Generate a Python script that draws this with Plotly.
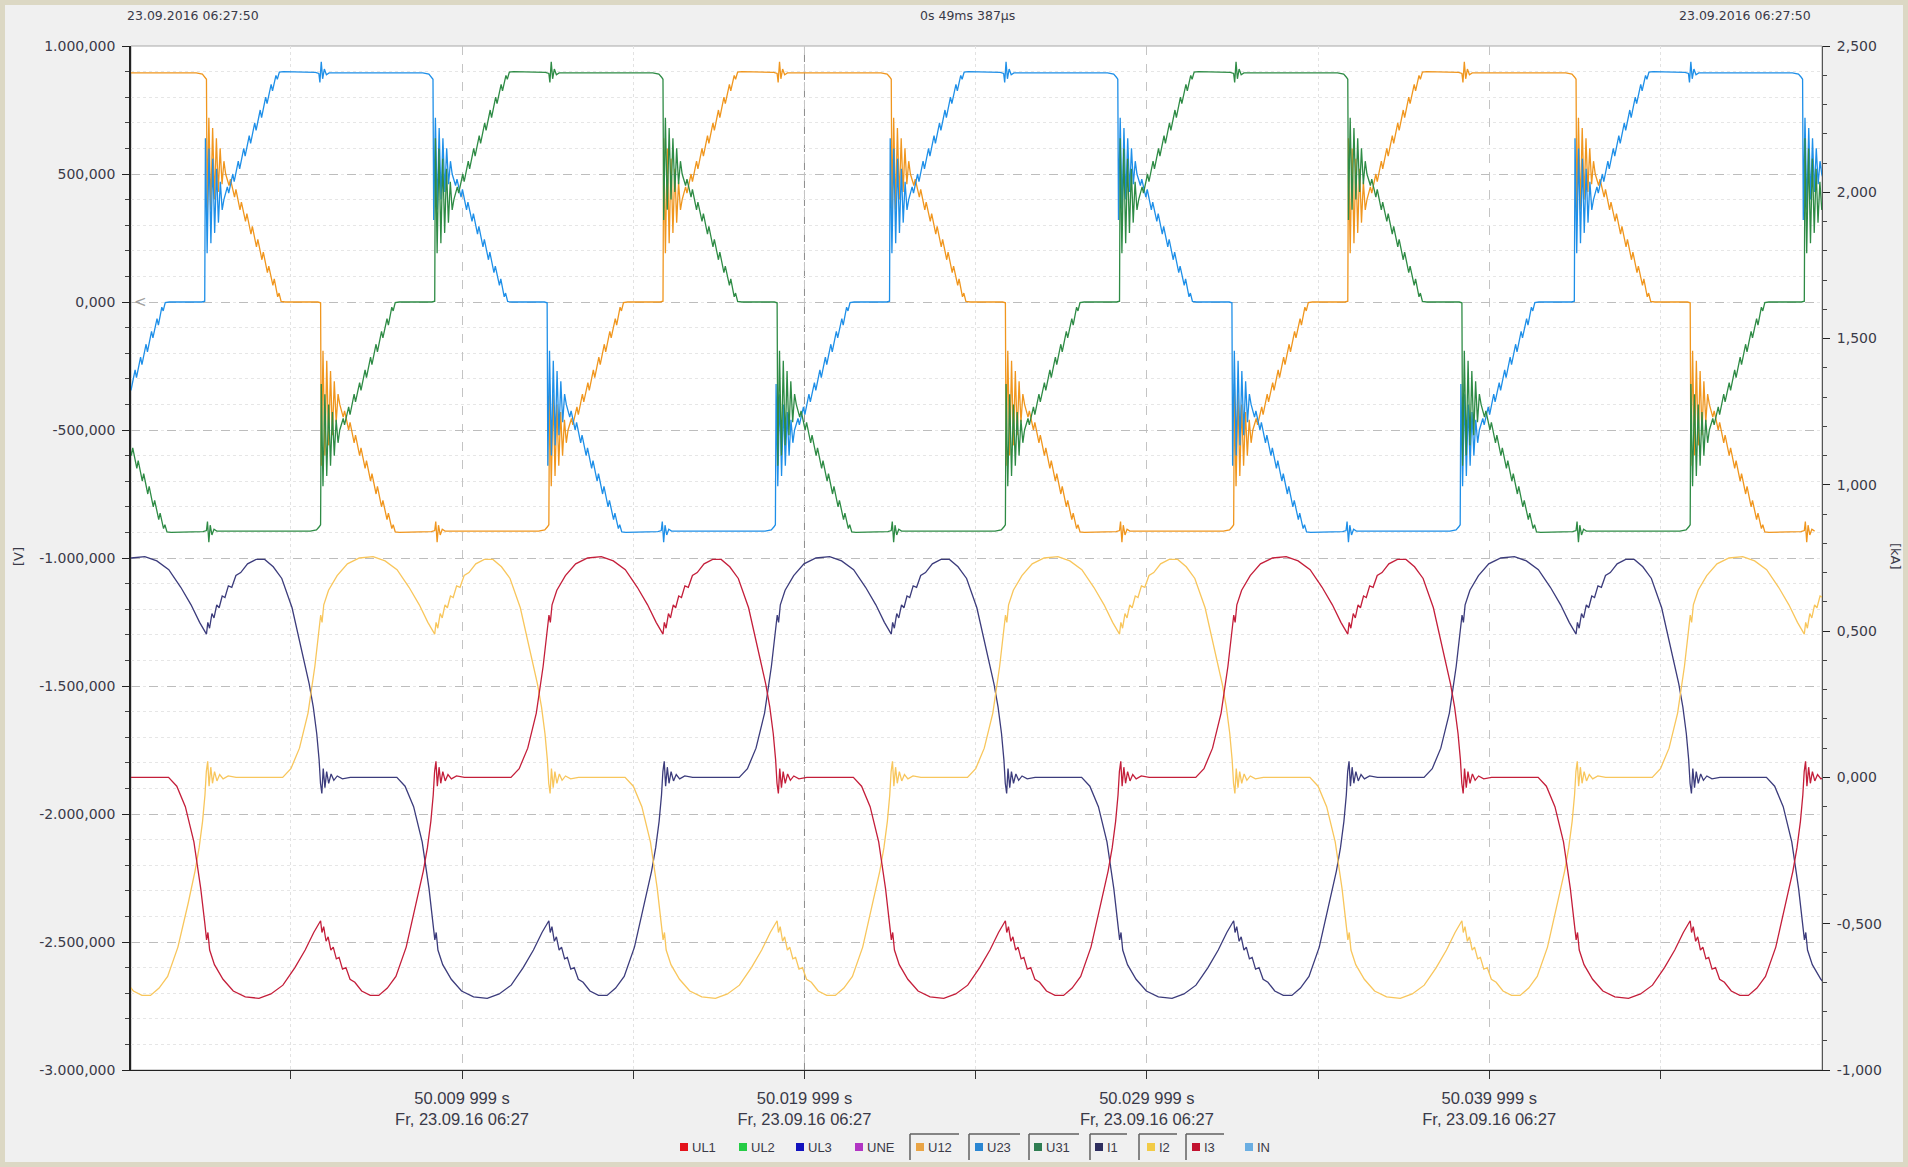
import plotly.graph_objects as go

# ---------------- time axis (ms after 50.000 000 s) ----------------
T_START_MS = 0.330
T_SPAN_MS = 49.387
T_END_MS = T_START_MS + T_SPAN_MS

x_major_ms = [9.999, 19.999, 29.999, 39.999]
x_major_text = [
    "50.009 999 s<br>Fr, 23.09.16 06:27",
    "50.019 999 s<br>Fr, 23.09.16 06:27",
    "50.029 999 s<br>Fr, 23.09.16 06:27",
    "50.039 999 s<br>Fr, 23.09.16 06:27",
]
x_minor_ms = [4.999, 14.999, 24.999, 34.999, 44.999]
cursor_ms = 19.999

# ---------------- y axes ----------------
y_left_vals = [1000, 500, 0, -500, -1000, -1500, -2000, -2500, -3000]
y_left_text = ["1.000,000", "500,000", "0,000", "-500,000", "-1.000,000",
               "-1.500,000", "-2.000,000", "-2.500,000", "-3.000,000"]
y_right_vals = [2.5, 2.0, 1.5, 1.0, 0.5, 0.0, -0.5, -1.0]
y_right_text = ["2,500", "2,000", "1,500", "1,000", "0,500", "0,000", "-0,500", "-1,000"]

header_left = "23.09.2016 06:27:50"
header_mid = "0s 49ms 387µs"
header_right = "23.09.2016 06:27:50"

# ---------------- legend ----------------
legend_names = ["UL1", "UL2", "UL3", "UNE", "U12", "U23", "U31", "I1", "I2", "I3", "IN"]
legend_colors = ["#E3121B", "#25CC45", "#1212BE", "#B235C4", "#E9A445", "#2A86D2",
                 "#2F7D52", "#2E2E5E", "#F2CB46", "#C2122F", "#6AAEE2"]
legend_active = [False, False, False, False, True, True, True, True, True, True, False]

# ---------------- waveform shapes ----------------
# line voltage commutation: +895 V -> 0 V (time in ms after the event, value in V)
vdown_t = [-0.30, -0.12, -0.04, 0.000, 0.020, 0.070, 0.125, 0.180, 0.235, 0.290,
           0.345, 0.400, 0.455, 0.510,
           0.56, 0.66, 0.70, 0.82, 0.86, 0.98, 1.02, 1.14, 1.18, 1.30, 1.34,
           1.46, 1.50, 1.62, 1.66, 1.78, 1.82, 1.94, 1.98, 2.08, 2.12, 2.18, 2.30]
vdown_v = [895, 890, 878, 870, 320, 720, 360, 680, 400, 640,
           430, 600, 460, 550,
           500, 455, 480, 410, 440, 360, 390, 315, 345, 265, 295,
           215, 245, 165, 195, 115, 140, 65, 90, 20, 35, 2, 0]
# line voltage commutation: 0 V -> +895 V
vup_t = [-0.08, 0.000, 0.020, 0.070, 0.125, 0.180, 0.235, 0.290,
         0.345, 0.400, 0.455, 0.510,
         0.56, 0.66, 0.70, 0.82, 0.86, 0.98, 1.02, 1.14, 1.18, 1.30, 1.34,
         1.46, 1.50, 1.62, 1.66, 1.78, 1.82, 1.94, 1.98, 2.08, 2.12, 2.18, 2.30]
vup_v = [0, 3, 640, 190, 600, 230, 560, 270,
         520, 310, 470, 360,
         400, 450, 425, 500, 470, 550, 520, 600, 570, 650, 620,
         700, 670, 750, 720, 800, 775, 850, 825, 885, 870, 898, 900]
# small disturbance on the flat top
blip_t = [-0.10, 0.00, 0.03, 0.07, 0.11, 0.16, 0.22, 0.30]
blip_v = [897, 893, 858, 938, 872, 910, 888, 895]

# phase current half wave (time in ms after the cusp, value in kA)
ihalf_t = [-4.44, -4.20, -3.95, -3.70, -3.50, -3.38, -3.33, -3.29, -3.24, -3.10,
           -2.85, -2.55, -2.20, -1.80, -1.45, -1.10, -0.75, -0.45, -0.20, 0.00,
           0.04, 0.09, 0.16, 0.22, 0.30, 0.37, 0.46, 0.54, 0.64, 0.74, 0.86, 1.00,
           1.20, 1.45, 1.70, 1.95, 2.20, 2.50, 2.80, 3.00, 3.12, 3.22, 3.29, 3.33,
           3.37, 3.41, 3.46, 3.51, 3.57, 3.64, 3.72, 3.82, 3.97, 4.20]
ihalf_v = [0.000, 0.030, 0.100, 0.220, 0.380, 0.500, 0.555, 0.530, 0.590, 0.640,
           0.690, 0.730, 0.750, 0.755, 0.740, 0.710, 0.650, 0.590, 0.530, 0.490,
           0.530, 0.510, 0.560, 0.545, 0.590, 0.580, 0.620, 0.615, 0.655, 0.650, 0.690, 0.700,
           0.730, 0.745, 0.745, 0.720, 0.680, 0.580, 0.430, 0.320, 0.240, 0.150, 0.060, -0.020,
           -0.055, 0.030, -0.035, 0.020, -0.020, 0.012, -0.010, 0.005, -0.005, 0.000]

PERIOD_MS = 20.0
STEP_MS = PERIOD_MS / 6.0

voltage_names = ["U12", "U23", "U31"]
voltage_colors = ["#F0961E", "#1E8FE8", "#2E8B45"]
voltage_refs = [2.534, 9.150, 15.867]

current_names = ["I1", "I2", "I3"]
current_colors = ["#3C3C7C", "#F8C65C", "#C41E3A"]
current_refs = [2.534, 9.200, 15.867]

# sequence of commutations per period: (step index, shape, sign)
voltage_sequence = [(0, "down", 1), (1, "up", -1), (2, "blip", -1),
                    (3, "down", -1), (4, "up", 1), (5, "blip", 1)]
shapes_lookup = {"down": (vdown_t, vdown_v), "up": (vup_t, vup_v), "blip": (blip_t, blip_v)}


def build_voltage(ref):
    ts, vs = [], []
    for k in range(-2, 4):
        base = ref + k * PERIOD_MS
        for step, name, sign in voltage_sequence:
            st, sv = shapes_lookup[name]
            t0 = base + step * STEP_MS
            for a, b in zip(st, sv):
                ts.append(t0 + a)
                vs.append(sign * b)
    return ts, vs


def build_current(ref):
    ts, vs = [], []
    for k in range(-2, 4):
        base = ref + k * PERIOD_MS
        for a, b in zip(ihalf_t, ihalf_v):
            ts.append(base + a)
            vs.append(b)
        for a, b in zip(ihalf_t, ihalf_v):
            ts.append(base + PERIOD_MS / 2 + a)
            vs.append(-b)
    return ts, vs


def clip(ts, vs):
    out_t, out_v = [], []
    for i, t in enumerate(ts):
        if T_START_MS - 1.0 <= t <= T_END_MS + 1.0:
            out_t.append(t)
            out_v.append(vs[i])
    return out_t, out_v


fig = go.Figure()
for name, col, ref in zip(voltage_names, voltage_colors, voltage_refs):
    t, v = clip(*build_voltage(ref))
    fig.add_trace(go.Scatter(x=t, y=v, mode="lines", name=name, yaxis="y",
                             line=dict(color=col, width=1.3), showlegend=False,
                             hoverinfo="skip"))
for name, col, ref in zip(current_names, current_colors, current_refs):
    t, v = clip(*build_current(ref))
    fig.add_trace(go.Scatter(x=t, y=v, mode="lines", name=name, yaxis="y2",
                             line=dict(color=col, width=1.3), showlegend=False,
                             hoverinfo="skip"))

# ---------------- layout geometry (pixels) ----------------
W, H = 1908, 1167
PL, PR, PT, PB = 131, 1822, 46, 1070


def pxx(x):
    return (x - PL) / (PR - PL)


def pxy(y):
    return (PB - y) / (PB - PT)


tick_font = dict(family="DejaVu Sans", size=14, color="#3A3A48")

fig.update_layout(
    width=W, height=H,
    margin=dict(l=PL, r=W - PR, t=PT, b=H - PB),
    paper_bgcolor="#F0F0F0",
    plot_bgcolor="#FFFFFF",
    showlegend=False,
    xaxis=dict(
        range=[T_START_MS, T_END_MS],
        tickmode="array", tickvals=x_major_ms, ticktext=x_major_text,
        ticks="outside", ticklen=8, tickcolor="#333333",
        showline=True, linecolor="#222222", linewidth=1,
        showgrid=True, gridcolor="#C4C4C4", griddash="dash", gridwidth=1,
        zeroline=False, ticklabelstandoff=5,
        tickfont=dict(family="Liberation Sans", size=16.5, color="#3A3A48"),
        minor=dict(tickmode="array", tickvals=x_minor_ms, ticks="outside", ticklen=8,
                   tickcolor="#333333", showgrid=True, gridcolor="#E2E2E2", griddash="dot"),
    ),
    yaxis=dict(
        range=[-3000, 1000],
        tickmode="array", tickvals=y_left_vals, ticktext=y_left_text,
        ticks="outside", ticklen=7, tickcolor="#222222",
        showline=True, linecolor="#222222", linewidth=1.5,
        showgrid=True, gridcolor="#BDBDBD", griddash="dash", gridwidth=1,
        zeroline=False, tickfont=tick_font, ticklabelstandoff=4,
        minor=dict(dtick=100, tick0=0, ticks="outside", ticklen=4, tickcolor="#444444",
                   showgrid=True, gridcolor="#E6E6E6", griddash="dot"),
    ),
    yaxis2=dict(
        range=[-1.0, 2.5], overlaying="y", side="right",
        tickmode="array", tickvals=y_right_vals, ticktext=y_right_text,
        ticks="outside", ticklen=7, tickcolor="#222222",
        showline=True, linecolor="#555555", linewidth=1,
        showgrid=False, zeroline=False, tickfont=tick_font, ticklabelstandoff=4,
        minor=dict(dtick=0.1, tick0=0, ticks="outside", ticklen=4, tickcolor="#444444",
                   showgrid=False),
    ),
)

shapes = []
# plot frame
shapes.append(dict(type="rect", xref="paper", yref="paper", x0=0, x1=1, y0=0, y1=1,
                   line=dict(color="#A8A8A8", width=1), fillcolor="rgba(0,0,0,0)", layer="below"))
# cursor line
shapes.append(dict(type="line", xref="x", yref="paper", x0=cursor_ms, x1=cursor_ms, y0=0, y1=1,
                   line=dict(color="#8C8C8C", width=1, dash="dashdot"), layer="below"))
# outer beige border
bw = 5
shapes.append(dict(type="rect", xref="paper", yref="paper",
                   x0=pxx(bw / 2), x1=pxx(W - bw / 2), y0=pxy(H - bw / 2), y1=pxy(bw / 2),
                   line=dict(color="#DCD8C4", width=bw), fillcolor="rgba(0,0,0,0)", layer="above"))

annotations = []
hfont = dict(family="DejaVu Sans", size=12.5, color="#3A3A48")
annotations.append(dict(text=header_left, xref="paper", yref="paper", x=pxx(125), y=pxy(15),
                        xanchor="left", yanchor="middle", showarrow=False, font=hfont))
annotations.append(dict(text=header_mid, xref="paper", yref="paper", x=pxx(967), y=pxy(15),
                        xanchor="center", yanchor="middle", showarrow=False, font=hfont))
annotations.append(dict(text=header_right, xref="paper", yref="paper", x=pxx(1813), y=pxy(15),
                        xanchor="right", yanchor="middle", showarrow=False, font=hfont))
annotations.append(dict(text="[V]", xref="paper", yref="paper", x=pxx(18), y=pxy(557),
                        xanchor="center", yanchor="middle", showarrow=False, textangle=-90,
                        font=dict(family="DejaVu Sans", size=13, color="#3A3A48")))
annotations.append(dict(text="[kA]", xref="paper", yref="paper", x=pxx(1896), y=pxy(557),
                        xanchor="center", yanchor="middle", showarrow=False, textangle=90,
                        font=dict(family="DejaVu Sans", size=13, color="#3A3A48")))
annotations.append(dict(text="&lt;", xref="paper", yref="y", x=pxx(140), y=0,
                        xanchor="center", yanchor="middle", showarrow=False,
                        font=dict(family="DejaVu Sans", size=15, color="#A0A0A0")))

# legend drawn at the bottom
leg_sq_x = [684, 743, 800, 859, 920, 979, 1038, 1099, 1151, 1196, 1249]
leg_frames = {4: (910, 959), 5: (969, 1020), 6: (1029, 1079), 7: (1090, 1127),
              8: (1139, 1177), 9: (1186, 1224)}
LEG_Y = 1147
for i, (nm, col) in enumerate(zip(legend_names, legend_colors)):
    sx = leg_sq_x[i]
    shapes.append(dict(type="rect", xref="paper", yref="paper",
                       x0=pxx(sx - 4), x1=pxx(sx + 4), y0=pxy(LEG_Y + 4), y1=pxy(LEG_Y - 4),
                       line=dict(width=0), fillcolor=col, layer="above"))
    annotations.append(dict(text=nm, xref="paper", yref="paper", x=pxx(sx + 6), y=pxy(LEG_Y),
                            xanchor="left", yanchor="middle", showarrow=False,
                            font=dict(family="Liberation Sans", size=13, color="#3A3A48")))
    if legend_active[i]:
        fx0, fx1 = leg_frames[i]
        shapes.append(dict(type="line", xref="paper", yref="paper",
                           x0=pxx(fx0), x1=pxx(fx1), y0=pxy(1134), y1=pxy(1134),
                           line=dict(color="#606060", width=1.5), layer="above"))
        shapes.append(dict(type="line", xref="paper", yref="paper",
                           x0=pxx(fx0), x1=pxx(fx0), y0=pxy(1134), y1=pxy(1160),
                           line=dict(color="#606060", width=1.5), layer="above"))

fig.update_layout(shapes=shapes, annotations=annotations)
fig.write_html("out.html")
